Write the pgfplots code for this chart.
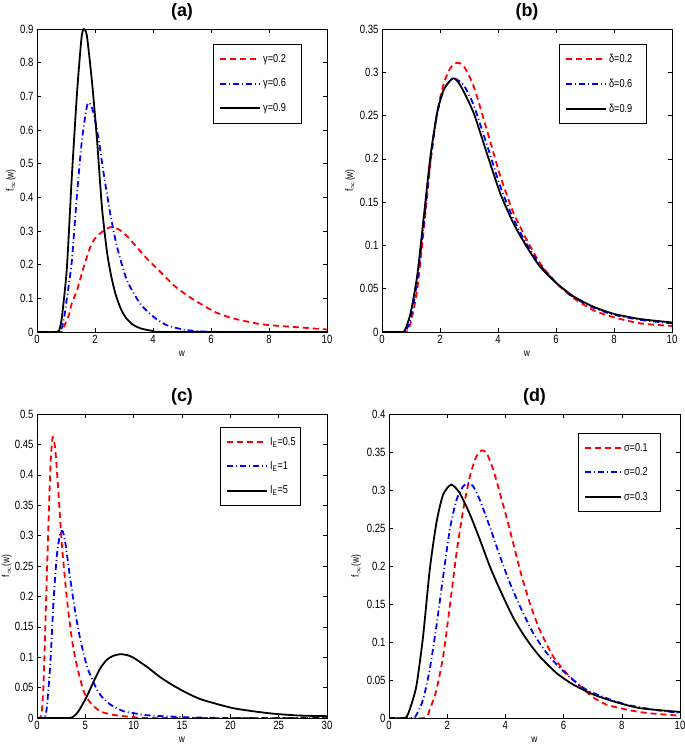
\documentclass[border=0pt]{standalone}
\usepackage{fontspec}
\setmainfont{Liberation Sans}[FakeStretch=0.8]
\newfontfamily\titlefont{Liberation Sans}
\usepackage{pgfplots}
\pgfplotsset{compat=1.18}
\pgfplotsset{
 myax/.style={
  scale only axis, width=290bp, height=303bp, anchor=south west,
  axis line style={line width=0.6bp},
  tick align=inside, major tick length=4bp,
  tick style={line width=0.5bp, black},
  /pgf/number format/assume math mode=true,
  ticklabel style={font=\fontsize{12}{13}\selectfont},
  yticklabel style={/pgf/number format/fixed, /pgf/number format/precision=2},
  xlabel={w}, ylabel={f$_\infty$(w)},
  label style={font=\fontsize{10.5}{12}\selectfont},
  ylabel style={anchor=center},
  title style={font=\titlefont\bfseries\fontsize{18}{20}\selectfont, at={(0.5,1)}, anchor=center, yshift=11bp},
  legend cell align=left,
  legend style={draw=black, fill=white, font=\fontsize{11.5}{13}\selectfont, row sep=11bp, inner xsep=6bp, inner ysep=8bp, anchor=north west},
  legend image code/.code={\draw[#1, line width=2bp] (0bp,0bp) -- (40bp,0bp);},
 },
 rd/.style={color=red, line width=1.8bp, dash pattern=on 6bp off 4bp, smooth, tension=0.4},
 bl/.style={color=blue, line width=1.8bp, dash pattern=on 6bp off 3bp on 1bp off 3bp, smooth, tension=0.4},
 bk/.style={color=black, line width=1.8bp, smooth, tension=0.4},
}
\begin{document}
\begin{tikzpicture}
\useasboundingbox (0,0) rectangle (685bp,747bp);
% (a)
\begin{axis}[myax, at={(37bp,415bp)}, title={(a)},
  xmin=0, xmax=10, ymin=0, ymax=0.9,
  xtick={0,2,...,10}, ytick={0,0.1,...,0.9},
  ylabel style={at={(axis description cs:-0.09,0.5)}},
  legend style={at={(0.607,0.95)}}]
\addplot[rd] coordinates {(0,0) (0.8,0) (0.86,0.002) (1.0,0.03) (1.1,0.05) (1.2,0.085) (1.38,0.124) (1.6,0.19) (1.84,0.253) (2.0,0.278) (2.18,0.293) (2.41,0.307) (2.6,0.312) (2.87,0.302) (3.1,0.285) (3.33,0.263) (3.79,0.218) (4.25,0.179) (4.71,0.139) (5.17,0.109) (5.63,0.084) (6.2,0.057) (6.78,0.040) (7.47,0.027) (7.93,0.021) (8.85,0.015) (9.9,0.008) (10,0.008)};
\addlegendentry{\makebox[30bp][l]{γ=0.2}}
\addplot[bl] coordinates {(0,0) (0.75,0) (0.85,0.01) (0.95,0.05) (1.03,0.10) (1.2,0.21) (1.38,0.41) (1.55,0.57) (1.72,0.67) (1.82,0.68) (1.95,0.65) (2.13,0.57) (2.3,0.47) (2.53,0.35) (2.76,0.253) (3.1,0.154) (3.56,0.084) (4.02,0.045) (4.48,0.02) (5.06,0.007) (5.63,0.002) (6.5,0) (10,0)};
\addlegendentry{\makebox[30bp][l]{γ=0.6}}
\addplot[bk] coordinates {(0,0) (0.69,0) (0.78,0.01) (0.86,0.045) (1.03,0.19) (1.2,0.46) (1.38,0.71) (1.53,0.87) (1.61,0.90) (1.72,0.88) (1.9,0.74) (2.07,0.57) (2.24,0.37) (2.41,0.24) (2.55,0.17) (2.7,0.115) (2.87,0.073) (3.05,0.044) (3.3,0.022) (3.6,0.010) (4.0,0.003) (4.5,0) (10,0)};
\addlegendentry{\makebox[30bp][l]{γ=0.9}}
\end{axis}
% (b)
\begin{axis}[myax, at={(382bp,415bp)}, title={(b)},
  xmin=0, xmax=10, ymin=0, ymax=0.35,
  xtick={0,2,...,10}, ytick={0,0.05,0.1,0.15,0.2,0.25,0.3,0.35},
  ylabel style={at={(axis description cs:-0.11,0.5)}},
  legend style={at={(0.61,0.95)}}]
\addplot[rd] coordinates {(0,0) (0.8,0) (0.9,0.003) (1.0,0.012) (1.21,0.048) (1.44,0.118) (1.67,0.195) (1.9,0.253) (2.13,0.287) (2.36,0.305) (2.59,0.311) (2.82,0.307) (3.16,0.284) (3.62,0.233) (4.08,0.18) (4.54,0.137) (5,0.106) (5.46,0.079) (6.03,0.056) (6.61,0.039) (7.3,0.025) (7.99,0.017) (8.9,0.010) (10,0.007)};
\addlegendentry{\makebox[29bp][l]{δ=0.2}}
\addplot[bl] coordinates {(0,0) (0.75,0) (0.85,0.003) (1.0,0.017) (1.21,0.058) (1.44,0.125) (1.67,0.198) (1.9,0.252) (2.13,0.28) (2.36,0.291) (2.5,0.293) (2.82,0.285) (3.16,0.262) (3.62,0.216) (4.08,0.168) (4.54,0.13) (5,0.101) (5.46,0.077) (6.03,0.056) (6.61,0.040) (7.3,0.028) (7.99,0.020) (8.9,0.014) (10,0.010)};
\addlegendentry{\makebox[29bp][l]{δ=0.6}}
\addplot[bk] coordinates {(0,0) (0.7,0) (0.8,0.003) (0.98,0.021) (1.21,0.064) (1.44,0.133) (1.67,0.203) (1.9,0.253) (2.13,0.28) (2.45,0.293) (2.7,0.285) (3.16,0.253) (3.62,0.206) (4.08,0.160) (4.54,0.125) (5,0.098) (5.46,0.075) (6.03,0.056) (6.61,0.041) (7.3,0.029) (7.99,0.021) (8.9,0.015) (10,0.011)};
\addlegendentry{\makebox[29bp][l]{δ=0.9}}
\end{axis}
% (c)
\begin{axis}[myax, at={(37bp,29bp)}, height=304bp, title={(c)},
  xmin=0, xmax=30, ymin=0, ymax=0.5,
  xtick={0,5,...,30}, ytick={0,0.05,0.1,0.15,0.2,0.25,0.3,0.35,0.4,0.45,0.5},
  ylabel style={at={(axis description cs:-0.105,0.5)}},
  legend style={at={(0.631,0.957)}}]
\addplot[rd] coordinates {(0,0) (0.3,0) (0.45,0.004) (0.52,0.014) (0.69,0.063) (1.03,0.24) (1.38,0.41) (1.62,0.462) (1.9,0.44) (2.24,0.365) (2.59,0.282) (3.1,0.195) (3.62,0.129) (4.14,0.085) (4.83,0.044) (5.52,0.025) (6.55,0.011) (7.93,0.005) (10,0.0015) (12,0) (30,0)};
\addlegendentry{\makebox[22bp][l]{I\textsubscript{E}=0.5}}
\addplot[bl] coordinates {(0,0) (0.75,0) (0.85,0.004) (1.03,0.019) (1.38,0.09) (1.72,0.195) (2.07,0.27) (2.41,0.304) (2.66,0.307) (2.93,0.288) (3.45,0.228) (3.97,0.173) (4.48,0.129) (5.17,0.085) (5.86,0.058) (6.55,0.038) (7.59,0.022) (8.97,0.011) (10,0.008) (11.03,0.005) (13,0.003) (16,0.001) (20,0) (30,0)};
\addlegendentry{\makebox[22bp][l]{I\textsubscript{E}=1}}
\addplot[bk] coordinates {(0,0) (3.3,0) (3.97,0.005) (4.48,0.016) (5.17,0.036) (5.86,0.06) (6.55,0.082) (7.24,0.096) (7.93,0.1025) (8.62,0.105) (9.31,0.1035) (10,0.099) (11.38,0.084) (12.76,0.067) (14.14,0.053) (15.52,0.041) (16.9,0.031) (18.62,0.023) (20.34,0.016) (22.4,0.011) (24.5,0.007) (27.2,0.004) (30,0.003)};
\addlegendentry{\makebox[22bp][l]{I\textsubscript{E}=5}}
\end{axis}
% (d)
\begin{axis}[myax, at={(389bp,29bp)}, width=291bp, height=304bp, title={(d)},
  xmin=0, xmax=10, ymin=0, ymax=0.4,
  xtick={0,2,...,10}, ytick={0,0.05,0.1,0.15,0.2,0.25,0.3,0.35,0.4},
  ylabel style={at={(axis description cs:-0.113,0.5)}},
  legend style={at={(0.649,0.9375)}},
  legend image code/.code={\draw[#1, line width=2bp] (0bp,0bp) -- (36bp,0bp);}]
\addplot[rd] coordinates {(0,0) (1.2,0) (1.4,0.011) (1.63,0.037) (1.86,0.081) (2.09,0.147) (2.32,0.217) (2.55,0.274) (2.78,0.318) (3.0,0.344) (3.18,0.352) (3.35,0.349) (3.58,0.327) (3.81,0.296) (4.15,0.248) (4.5,0.195) (4.84,0.151) (5.18,0.116) (5.64,0.081) (6.1,0.059) (6.56,0.042) (7.02,0.027) (7.48,0.0175) (8.17,0.011) (8.85,0.0066) (10,0.003)};
\addlegendentry{\makebox[28bp][l]{σ=0.1}}
\addplot[bl] coordinates {(0,0) (0.8,0) (0.94,0.004) (1.17,0.024) (1.4,0.064) (1.63,0.121) (1.86,0.186) (2.09,0.248) (2.32,0.287) (2.55,0.305) (2.72,0.309) (2.89,0.305) (3.12,0.287) (3.46,0.252) (3.81,0.213) (4.15,0.178) (4.5,0.147) (4.95,0.112) (5.41,0.086) (5.87,0.066) (6.33,0.050) (6.79,0.037) (7.48,0.026) (8.17,0.0175) (9.08,0.011) (10,0.0066)};
\addlegendentry{\makebox[28bp][l]{σ=0.2}}
\addplot[bk] coordinates {(0,0) (0.55,0) (0.71,0.011) (0.94,0.042) (1.17,0.107) (1.4,0.195) (1.63,0.257) (1.86,0.294) (2.14,0.307) (2.43,0.296) (2.78,0.268) (3.12,0.235) (3.46,0.2) (3.81,0.169) (4.27,0.132) (4.72,0.104) (5.18,0.081) (5.76,0.059) (6.33,0.044) (7.02,0.031) (7.7,0.022) (8.62,0.013) (10,0.008)};
\addlegendentry{\makebox[28bp][l]{σ=0.3}}
\end{axis}
\end{tikzpicture}
\end{document}
